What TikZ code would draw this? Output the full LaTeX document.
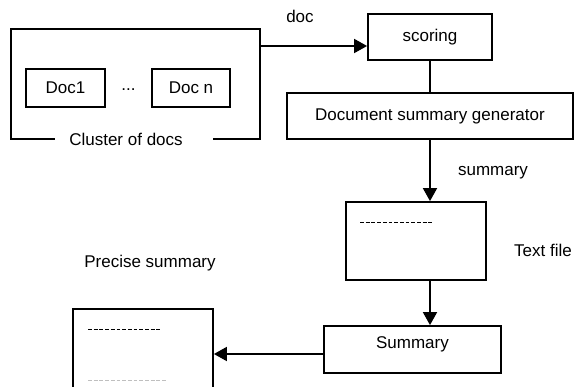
\documentclass[tikz,border=0pt]{standalone}
\usepackage{fontspec}
\setmainfont{Liberation Sans}
\usetikzlibrary{positioning,arrows.meta}

\begin{document}
\begin{tikzpicture}[x=1pt,y=-1pt,>={Triangle[length=13pt,width=14pt]},line width=1.8pt,
  every node/.style={font=\fontsize{17}{20}\selectfont,inner sep=0pt},
  box/.style={draw,rectangle},
  dashline/.style={line width=0.9pt,dash pattern=on 3.8pt off 1.9pt}]
  \useasboundingbox (0,0) rectangle (574,387);
  % left part: the cluster
  \node[box,minimum width=249pt,minimum height=110pt] (cluster) at (135.5,84) {};
  \node[box,minimum width=79pt,minimum height=38pt] (doc1) at (65.5,88) {Doc1};
  \node[box,minimum width=78pt,minimum height=38pt] (docn) at (191,88) {Doc n};
  \node (dots) at (128.5,90) {...};
  \draw[white,line width=4pt] (55,139) -- (213,139);
  \node (clusterlbl) at (126,139) {Cluster of docs};
  % right column
  \node[box,minimum width=124pt,minimum height=46pt] (scoring) at (430,37) {scoring};
  \node[box,minimum width=286pt,minimum height=46pt] (dsg) at (430,116) {Document summary generator};
  \node[box,minimum width=140pt,minimum height=78pt] (textfile) at (416,241) {};
  \node[box,minimum width=177pt,minimum height=47pt,text depth=14pt] (sumbox) at (412.5,349.5) {Summary};
  \node[box,minimum width=140pt,minimum height=83pt] (precise) at (143,350.5) {};
  % labels
  \node (doclbl) at (300,16) {doc};
  \node (summarylbl) at (493,173) {summary};
  \node (textfilelbl) at (543,250) {Text file};
  \node (preciselbl) at (150,263) {Precise summary};
  % lines of text in the files
  \draw[dashline] (360,222) -- (434,222);
  \draw[dashline] (88,329) -- (161,329);
  \draw[dashline,line width=0.7pt,gray!50] (88,380) -- (167,380);
  % connectors
  \coordinate (out) at (cluster.east |- 0,46);
  \draw[->] (out) -- (out -| scoring.west);
  \draw (scoring.south) -- (dsg.north);
  \draw[->] (dsg.south) -- (dsg.south |- textfile.north);
  \draw[->] (textfile.south -| dsg.south) -- (dsg.south |- sumbox.north);
  \draw[->] ([yshift=-4.5pt]sumbox.west) -- ([yshift=-4.5pt]sumbox.west -| precise.east);
\end{tikzpicture}
\end{document}
